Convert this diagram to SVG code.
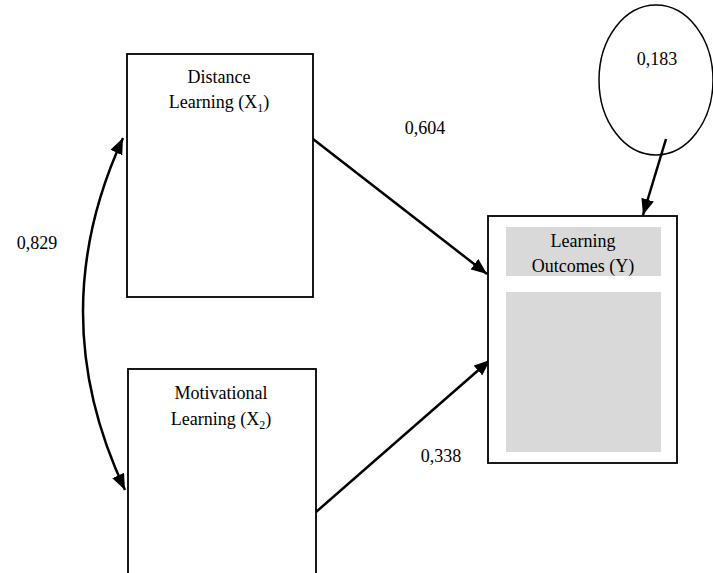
<svg xmlns="http://www.w3.org/2000/svg" width="713" height="573" viewBox="0 0 713 573">
<defs>
<marker id="ah" viewBox="0 0 16 13" refX="16" refY="6.5" markerWidth="16" markerHeight="13" markerUnits="userSpaceOnUse" orient="auto-start-reverse">
<path d="M0,0 L16,6.5 L0,13 z" fill="#000"/>
</marker>
<style>
.box{fill:#fff;stroke:#000;stroke-width:1.8}
.gray{fill:#d9d9d9;stroke:none}
.t{font-family:"Liberation Serif","Times New Roman",serif;font-size:18px;fill:#000;text-anchor:middle}
.c{fill:none;stroke:#000;stroke-width:2.5}
.sub{font-size:12px}
</style>
</defs>
<rect width="713" height="573" fill="#fff"/>
<g id="connectors">
<path class="c" d="M313,139 L487,274" marker-end="url(#ah)"/>
<path class="c" d="M316,512 L490,360" marker-end="url(#ah)"/>
<path class="c" d="M666,139 L643,215" marker-end="url(#ah)"/>
<path class="c" d="M123,138 Q42,314 125,490" marker-start="url(#ah)" marker-end="url(#ah)"/>
</g>
<g id="x1">
<rect class="box" x="127" y="54" width="186" height="243"/>
<text class="t" x="219" y="83">Distance</text>
<text class="t" x="219" y="108">Learning (X<tspan class="sub" dy="4">1</tspan><tspan dy="-4">)</tspan></text>
</g>
<g id="x2">
<rect class="box" x="128" y="369" width="188" height="215"/>
<text class="t" x="221" y="399">Motivational</text>
<text class="t" x="221" y="425">Learning (X<tspan class="sub" dy="4">2</tspan><tspan dy="-4">)</tspan></text>
</g>
<g id="y">
<rect class="box" x="488" y="216" width="189" height="247"/>
<rect class="gray" x="506" y="227" width="155" height="49"/>
<rect class="gray" x="506" y="292" width="155" height="160"/>
<text class="t" x="583" y="247">Learning</text>
<text class="t" x="583" y="272">Outcomes (Y)</text>
</g>
<g id="e">
<ellipse cx="656" cy="80" rx="57" ry="75" fill="none" stroke="#000" stroke-width="1.5"/>
<text class="t" x="657" y="65">0,183</text>
</g>
<g id="labels">
<text class="t" x="37" y="249">0,829</text>
<text class="t" x="425" y="134">0,604</text>
<text class="t" x="441" y="462">0,338</text>
</g>
</svg>
